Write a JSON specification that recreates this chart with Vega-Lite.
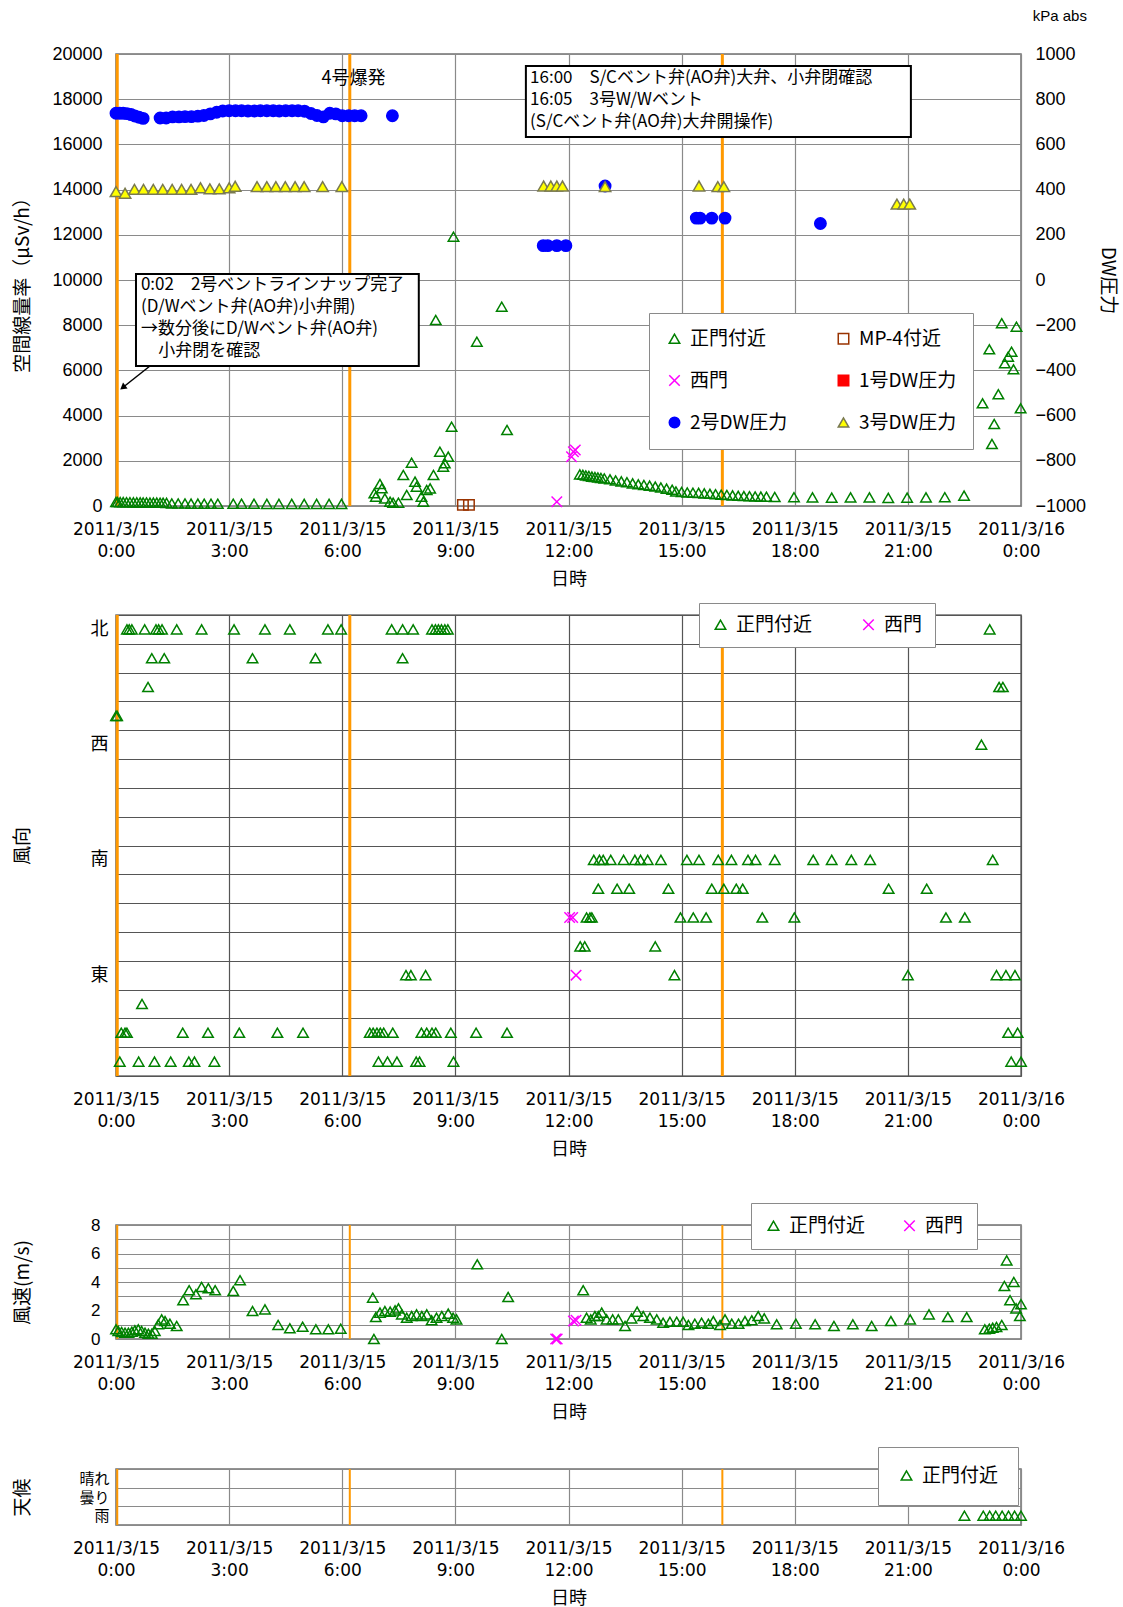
{
"$schema": "https://vega.github.io/schema/vega-lite/v6.json",
"background": "white",
"padding": {"left": 12, "top": 8, "right": 5, "bottom": 0},
"config": {
 "font": "Noto Sans CJK JP",
 "view": {"stroke": "#707070", "strokeWidth": 1.5},
 "axis": {"labelColor": "black", "titleColor": "black", "titleFont": "Noto Sans CJK JP", "titleFontWeight": "normal", "titleFontSize": 19, "labelFontSize": 18, "labelFont": "Liberation Sans", "ticks": false, "domain": false, "gridColor": "#8a8a8a", "gridWidth": 1.2, "gridOpacity": 1, "labelOverlap": false},
 "axisX": {"labelFont": "DejaVu Sans", "labelFontSize": 17, "labelLineHeight": 22, "labelPadding": 15, "titlePadding": 11, "titleFontSize": 18, "labelAngle": 0, "labelFlush": false},
 "axisLeft": {"titleX": -94, "titleBaseline": "middle"},
 "legend": {"labelFont": "Noto Sans CJK JP", "labelFontSize": 19, "labelColor": "black", "fillColor": "white", "strokeColor": "#8a8a8a", "symbolStrokeWidth": 1.5, "labelOffset": 6, "symbolSize": 110},
 "point": {"size": 110, "strokeWidth": 1.5, "filled": true, "opacity": 1}
},
"datasets": {
 "events": [{"h": 0.033, "事象": "2号ベント"}, {"h": 6.2, "事象": "4号爆発"}, {"h": 16.08, "事象": "3号ベント"}],
 "boxes": [{"h": 0.53, "h2": 8.03, "線量率": 6195, "線量率2": 10266}, {"h": 10.87, "h2": 21.08, "線量率": 16328, "線量率2": 19469}],
 "arrow": [{"h": 0.9, "h2": 0.18, "線量率": 6195, "線量率2": 5243}],
 "notes": [
  {"h": 0.66, "線量率": 9780, "text": "0:02　2号ベントラインナップ完了"},
  {"h": 0.66, "線量率": 8800, "text": "(D/Wベント弁(AO弁)小弁開)"},
  {"h": 0.66, "線量率": 7820, "text": "→数分後にD/Wベント弁(AO弁)"},
  {"h": 1.12, "線量率": 6840, "text": "小弁閉を確認"},
  {"h": 10.98, "線量率": 18939, "text": "16:00　S/Cベント弁(AO弁)大弁、小弁閉確認"},
  {"h": 10.98, "線量率": 17966, "text": "16:05　3号W/Wベント"},
  {"h": 10.98, "線量率": 16992, "text": "(S/Cベント弁(AO弁)大弁開操作)"}
 ],
 "eventlabel": [{"h": 6.3, "線量率": 18900, "text": "4号爆発"}],
 "units": [{"h": 25.03, "圧力": 1168, "text": "kPa abs"}],
 "dose": [
  {"h":0,"系列":"正門付近","線量率":180},{"h":0.04,"系列":"正門付近","線量率":175},{"h":0.11,"系列":"正門付近","線量率":170},{"h":0.19,"系列":"正門付近","線量率":170},{"h":0.28,"系列":"正門付近","線量率":165},{"h":0.37,"系列":"正門付近","線量率":165},{"h":0.46,"系列":"正門付近","線量率":160},{"h":0.55,"系列":"正門付近","線量率":160},{"h":0.64,"系列":"正門付近","線量率":160},{"h":0.72,"系列":"正門付近","線量率":155},{"h":0.81,"系列":"正門付近","線量率":155},{"h":0.9,"系列":"正門付近","線量率":150},{"h":0.99,"系列":"正門付近","線量率":150},{"h":1.08,"系列":"正門付近","線量率":150},{"h":1.17,"系列":"正門付近","線量率":145},{"h":1.25,"系列":"正門付近","線量率":145},{"h":1.34,"系列":"正門付近","線量率":140},
  {"h":1.48,"系列":"正門付近","線量率":110},{"h":1.65,"系列":"正門付近","線量率":110},{"h":1.83,"系列":"正門付近","線量率":110},{"h":1.99,"系列":"正門付近","線量率":105},{"h":2.17,"系列":"正門付近","線量率":105},{"h":2.34,"系列":"正門付近","線量率":100},{"h":2.52,"系列":"正門付近","線量率":100},{"h":2.7,"系列":"正門付近","線量率":100},{"h":3.11,"系列":"正門付近","線量率":100},{"h":3.33,"系列":"正門付近","線量率":100},{"h":3.66,"系列":"正門付近","線量率":100},{"h":4,"系列":"正門付近","線量率":95},{"h":4.32,"系列":"正門付近","線量率":95},{"h":4.66,"系列":"正門付近","線量率":95},{"h":4.99,"系列":"正門付近","線量率":95},{"h":5.32,"系列":"正門付近","線量率":95},{"h":5.65,"系列":"正門付近","線量率":95},{"h":5.98,"系列":"正門付近","線量率":95},
  {"h":6.85,"系列":"正門付近","線量率":562},{"h":6.89,"系列":"正門付近","線量率":412},{"h":7,"系列":"正門付近","線量率":973},{"h":7.05,"系列":"正門付近","線量率":782},{"h":7.13,"系列":"正門付近","線量率":339},{"h":7.27,"系列":"正門付近","線量率":190},{"h":7.35,"系列":"正門付近","線量率":146},{"h":7.49,"系列":"正門付近","線量率":146},{"h":7.62,"系列":"正門付近","線量率":1372},{"h":7.71,"系列":"正門付近","線量率":487},{"h":7.84,"系列":"正門付近","線量率":1917},{"h":7.93,"系列":"正門付近","線量率":1077},{"h":7.97,"系列":"正門付近","線量率":855},{"h":8.1,"系列":"正門付近","線量率":413},{"h":8.15,"系列":"正門付近","線量率":192},{"h":8.24,"系列":"正門付近","線量率":708},{"h":8.33,"系列":"正門付近","線量率":781},{"h":8.42,"系列":"正門付近","線量率":1372},{"h":8.48,"系列":"正門付近","線量率":8230},{"h":8.59,"系列":"正門付近","線量率":2403},{"h":8.68,"系列":"正門付近","線量率":1741},{"h":8.72,"系列":"正門付近","線量率":1888},{"h":8.81,"系列":"正門付近","線量率":2183},{"h":8.9,"系列":"正門付近","線量率":3510},{"h":8.95,"系列":"正門付近","線量率":11917},{"h":9.57,"系列":"正門付近","線量率":7271},{"h":10.23,"系列":"正門付近","線量率":8820},{"h":10.37,"系列":"正門付近","線量率":3363},
  {"h":12.3,"系列":"正門付近","線量率":1400},{"h":12.38,"系列":"正門付近","線量率":1380},{"h":12.46,"系列":"正門付近","線量率":1350},{"h":12.54,"系列":"正門付近","線量率":1330},{"h":12.62,"系列":"正門付近","線量率":1300},{"h":12.7,"系列":"正門付近","線量率":1280},{"h":12.78,"系列":"正門付近","線量率":1260},{"h":12.86,"系列":"正門付近","線量率":1240},{"h":12.95,"系列":"正門付近","線量率":1220},{"h":13.1,"系列":"正門付近","線量率":1180},{"h":13.25,"系列":"正門付近","線量率":1130},{"h":13.4,"系列":"正門付近","線量率":1090},{"h":13.55,"系列":"正門付近","線量率":1050},{"h":13.7,"系列":"正門付近","線量率":1000},{"h":13.85,"系列":"正門付近","線量率":960},{"h":14,"系列":"正門付近","線量率":930},{"h":14.15,"系列":"正門付近","線量率":900},{"h":14.3,"系列":"正門付近","線量率":860},{"h":14.45,"系列":"正門付近","線量率":820},{"h":14.6,"系列":"正門付近","線量率":770},{"h":14.75,"系列":"正門付近","線量率":720},{"h":14.85,"系列":"正門付近","線量率":640},{"h":15,"系列":"正門付近","線量率":620},{"h":15.15,"系列":"正門付近","線量率":600},{"h":15.3,"系列":"正門付近","線量率":590},{"h":15.45,"系列":"正門付近","線量率":580},{"h":15.6,"系列":"正門付近","線量率":560},{"h":15.75,"系列":"正門付近","線量率":540},{"h":15.9,"系列":"正門付近","線量率":520},{"h":16.05,"系列":"正門付近","線量率":500},{"h":16.2,"系列":"正門付近","線量率":490},{"h":16.35,"系列":"正門付近","線量率":470},{"h":16.5,"系列":"正門付近","線量率":450},{"h":16.65,"系列":"正門付近","線量率":440},{"h":16.8,"系列":"正門付近","線量率":430},{"h":16.95,"系列":"正門付近","線量率":420},{"h":17.1,"系列":"正門付近","線量率":415},{"h":17.25,"系列":"正門付近","線量率":410},
  {"h":17.47,"系列":"正門付近","線量率":400},{"h":17.98,"系列":"正門付近","線量率":390},{"h":18.47,"系列":"正門付近","線量率":380},{"h":18.98,"系列":"正門付近","線量率":370},{"h":19.48,"系列":"正門付近","線量率":380},{"h":19.98,"系列":"正門付近","線量率":380},{"h":20.48,"系列":"正門付近","線量率":360},{"h":20.98,"系列":"正門付近","線量率":370},{"h":21.48,"系列":"正門付近","線量率":380},{"h":21.98,"系列":"正門付近","線量率":390},{"h":22.49,"系列":"正門付近","線量率":460},
  {"h":22.98,"系列":"正門付近","線量率":4544},{"h":23.16,"系列":"正門付近","線量率":6934},{"h":23.23,"系列":"正門付近","線量率":2744},{"h":23.29,"系列":"正門付近","線量率":3629},{"h":23.4,"系列":"正門付近","線量率":4943},{"h":23.49,"系列":"正門付近","線量率":8085},{"h":23.57,"系列":"正門付近","線量率":6314},{"h":23.66,"系列":"正門付近","線量率":6607},{"h":23.75,"系列":"正門付近","線量率":6828},{"h":23.8,"系列":"正門付近","線量率":6049},{"h":23.88,"系列":"正門付近","線量率":7934},{"h":23.99,"系列":"正門付近","線量率":4323},
  {"h":9.2,"系列":"MP-4付近","線量率":50},{"h":9.36,"系列":"MP-4付近","線量率":50},
  {"h":11.69,"系列":"西門","線量率":190},{"h":12.08,"系列":"西門","線量率":2180},{"h":12.13,"系列":"西門","線量率":2400},{"h":12.18,"系列":"西門","線量率":2480}
 ],
 "dw": [
  {"h":0,"系列":"2号DW圧力","圧力":738},{"h":0.1,"系列":"2号DW圧力","圧力":738},{"h":0.19,"系列":"2号DW圧力","圧力":738},{"h":0.29,"系列":"2号DW圧力","圧力":736},{"h":0.4,"系列":"2号DW圧力","圧力":732},{"h":0.5,"系列":"2号DW圧力","圧力":726},{"h":0.61,"系列":"2号DW圧力","圧力":720},{"h":0.72,"系列":"2号DW圧力","圧力":715},
  {"h":1.17,"系列":"2号DW圧力","圧力":717},{"h":1.33,"系列":"2号DW圧力","圧力":717},{"h":1.5,"系列":"2号DW圧力","圧力":722},{"h":1.67,"系列":"2号DW圧力","圧力":722},{"h":1.83,"系列":"2号DW圧力","圧力":723},{"h":2,"系列":"2号DW圧力","圧力":723},{"h":2.17,"系列":"2号DW圧力","圧力":725},{"h":2.33,"系列":"2号DW圧力","圧力":728},{"h":2.5,"系列":"2号DW圧力","圧力":735},{"h":2.67,"系列":"2号DW圧力","圧力":742},{"h":2.83,"系列":"2号DW圧力","圧力":748},{"h":3,"系列":"2号DW圧力","圧力":749},{"h":3.17,"系列":"2号DW圧力","圧力":749},{"h":3.33,"系列":"2号DW圧力","圧力":749},{"h":3.5,"系列":"2号DW圧力","圧力":748},{"h":3.67,"系列":"2号DW圧力","圧力":748},{"h":3.83,"系列":"2号DW圧力","圧力":749},{"h":4,"系列":"2号DW圧力","圧力":749},{"h":4.17,"系列":"2号DW圧力","圧力":749},{"h":4.33,"系列":"2号DW圧力","圧力":748},{"h":4.5,"系列":"2号DW圧力","圧力":749},{"h":4.67,"系列":"2号DW圧力","圧力":749},{"h":4.83,"系列":"2号DW圧力","圧力":749},{"h":5,"系列":"2号DW圧力","圧力":747},{"h":5.17,"系列":"2号DW圧力","圧力":737},{"h":5.33,"系列":"2号DW圧力","圧力":728},{"h":5.5,"系列":"2号DW圧力","圧力":722},{"h":5.67,"系列":"2号DW圧力","圧力":738},{"h":5.83,"系列":"2号DW圧力","圧力":735},{"h":6,"系列":"2号DW圧力","圧力":727},{"h":6.17,"系列":"2号DW圧力","圧力":727},{"h":6.33,"系列":"2号DW圧力","圧力":727},{"h":6.5,"系列":"2号DW圧力","圧力":727},{"h":7.33,"系列":"2号DW圧力","圧力":727},
  {"h":11.33,"系列":"2号DW圧力","圧力":152},{"h":11.45,"系列":"2号DW圧力","圧力":152},{"h":11.69,"系列":"2号DW圧力","圧力":152},{"h":11.93,"系列":"2号DW圧力","圧力":152},{"h":12.97,"系列":"2号DW圧力","圧力":416},{"h":15.39,"系列":"2号DW圧力","圧力":274},{"h":15.49,"系列":"2号DW圧力","圧力":274},{"h":15.8,"系列":"2号DW圧力","圧力":274},{"h":16.15,"系列":"2号DW圧力","圧力":274},{"h":18.68,"系列":"2号DW圧力","圧力":250},
  {"h":0,"系列":"3号DW圧力","圧力":391},{"h":0.24,"系列":"3号DW圧力","圧力":384},{"h":0.49,"系列":"3号DW圧力","圧力":401},{"h":0.73,"系列":"3号DW圧力","圧力":401},{"h":0.99,"系列":"3号DW圧力","圧力":401},{"h":1.24,"系列":"3号DW圧力","圧力":401},{"h":1.49,"系列":"3号DW圧力","圧力":401},{"h":1.74,"系列":"3号DW圧力","圧力":401},{"h":1.99,"系列":"3号DW圧力","圧力":401},{"h":2.24,"系列":"3号DW圧力","圧力":408},{"h":2.49,"系列":"3号DW圧力","圧力":403},{"h":2.74,"系列":"3号DW圧力","圧力":403},{"h":3,"系列":"3号DW圧力","圧力":408},{"h":3.16,"系列":"3号DW圧力","圧力":415},{"h":3.74,"系列":"3号DW圧力","圧力":413},{"h":4,"系列":"3号DW圧力","圧力":413},{"h":4.24,"系列":"3号DW圧力","圧力":413},{"h":4.49,"系列":"3号DW圧力","圧力":413},{"h":4.75,"系列":"3号DW圧力","圧力":413},{"h":4.99,"系列":"3号DW圧力","圧力":413},{"h":5.48,"系列":"3号DW圧力","圧力":413},{"h":5.99,"系列":"3号DW圧力","圧力":413},
  {"h":11.34,"系列":"3号DW圧力","圧力":416},{"h":11.53,"系列":"3号DW圧力","圧力":416},{"h":11.69,"系列":"3号DW圧力","圧力":416},{"h":11.84,"系列":"3号DW圧力","圧力":416},{"h":12.97,"系列":"3号DW圧力","圧力":413},{"h":15.46,"系列":"3号DW圧力","圧力":416},{"h":15.96,"系列":"3号DW圧力","圧力":413},{"h":16.12,"系列":"3号DW圧力","圧力":413},{"h":20.71,"系列":"3号DW圧力","圧力":336},{"h":20.89,"系列":"3号DW圧力","圧力":336},{"h":21.05,"系列":"3号DW圧力","圧力":336}
 ],
 "winddir": [
  {"h":0.29,"系列":"正門付近","風向":"北"},{"h":0.35,"系列":"正門付近","風向":"北"},{"h":0.42,"系列":"正門付近","風向":"北"},{"h":0.76,"系列":"正門付近","風向":"北"},{"h":1.06,"系列":"正門付近","風向":"北"},{"h":1.13,"系列":"正門付近","風向":"北"},{"h":1.22,"系列":"正門付近","風向":"北"},{"h":1.61,"系列":"正門付近","風向":"北"},{"h":2.27,"系列":"正門付近","風向":"北"},{"h":3.13,"系列":"正門付近","風向":"北"},{"h":3.95,"系列":"正門付近","風向":"北"},{"h":4.61,"系列":"正門付近","風向":"北"},{"h":5.62,"系列":"正門付近","風向":"北"},{"h":5.97,"系列":"正門付近","風向":"北"},{"h":7.31,"系列":"正門付近","風向":"北"},{"h":7.6,"系列":"正門付近","風向":"北"},{"h":7.88,"系列":"正門付近","風向":"北"},{"h":8.38,"系列":"正門付近","風向":"北"},{"h":8.47,"系列":"正門付近","風向":"北"},{"h":8.55,"系列":"正門付近","風向":"北"},{"h":8.63,"系列":"正門付近","風向":"北"},{"h":8.72,"系列":"正門付近","風向":"北"},{"h":8.8,"系列":"正門付近","風向":"北"},{"h":23.17,"系列":"正門付近","風向":"北"},
  {"h":0.95,"系列":"正門付近","風向":"北北西"},{"h":1.28,"系列":"正門付近","風向":"北北西"},{"h":3.62,"系列":"正門付近","風向":"北北西"},{"h":5.29,"系列":"正門付近","風向":"北北西"},{"h":7.6,"系列":"正門付近","風向":"北北西"},
  {"h":0.85,"系列":"正門付近","風向":"北西"},{"h":23.42,"系列":"正門付近","風向":"北西"},{"h":23.52,"系列":"正門付近","風向":"北西"},
  {"h":0,"系列":"正門付近","風向":"西北西"},{"h":0.03,"系列":"正門付近","風向":"西北西"},
  {"h":22.95,"系列":"正門付近","風向":"西"},
  {"h":12.67,"系列":"正門付近","風向":"南"},{"h":12.82,"系列":"正門付近","風向":"南"},{"h":12.92,"系列":"正門付近","風向":"南"},{"h":13.12,"系列":"正門付近","風向":"南"},{"h":13.46,"系列":"正門付近","風向":"南"},{"h":13.76,"系列":"正門付近","風向":"南"},{"h":13.91,"系列":"正門付近","風向":"南"},{"h":14.1,"系列":"正門付近","風向":"南"},{"h":14.45,"系列":"正門付近","風向":"南"},{"h":15.14,"系列":"正門付近","風向":"南"},{"h":15.46,"系列":"正門付近","風向":"南"},{"h":15.97,"系列":"正門付近","風向":"南"},{"h":16.32,"系列":"正門付近","風向":"南"},{"h":16.76,"系列":"正門付近","風向":"南"},{"h":16.96,"系列":"正門付近","風向":"南"},{"h":17.47,"系列":"正門付近","風向":"南"},{"h":18.49,"系列":"正門付近","風向":"南"},{"h":18.98,"系列":"正門付近","風向":"南"},{"h":19.5,"系列":"正門付近","風向":"南"},{"h":20,"系列":"正門付近","風向":"南"},{"h":23.25,"系列":"正門付近","風向":"南"},
  {"h":12.79,"系列":"正門付近","風向":"南南東"},{"h":13.29,"系列":"正門付近","風向":"南南東"},{"h":13.61,"系列":"正門付近","風向":"南南東"},{"h":14.65,"系列":"正門付近","風向":"南南東"},{"h":15.8,"系列":"正門付近","風向":"南南東"},{"h":16.12,"系列":"正門付近","風向":"南南東"},{"h":16.45,"系列":"正門付近","風向":"南南東"},{"h":16.62,"系列":"正門付近","風向":"南南東"},{"h":20.49,"系列":"正門付近","風向":"南南東"},{"h":21.5,"系列":"正門付近","風向":"南南東"},
  {"h":12.48,"系列":"正門付近","風向":"南東"},{"h":12.57,"系列":"正門付近","風向":"南東"},{"h":12.62,"系列":"正門付近","風向":"南東"},{"h":14.97,"系列":"正門付近","風向":"南東"},{"h":15.31,"系列":"正門付近","風向":"南東"},{"h":15.65,"系列":"正門付近","風向":"南東"},{"h":17.14,"系列":"正門付近","風向":"南東"},{"h":17.99,"系列":"正門付近","風向":"南東"},{"h":22.01,"系列":"正門付近","風向":"南東"},{"h":22.51,"系列":"正門付近","風向":"南東"},
  {"h":12.31,"系列":"正門付近","風向":"東南東"},{"h":12.43,"系列":"正門付近","風向":"東南東"},{"h":14.3,"系列":"正門付近","風向":"東南東"},
  {"h":7.69,"系列":"正門付近","風向":"東"},{"h":7.82,"系列":"正門付近","風向":"東"},{"h":8.21,"系列":"正門付近","風向":"東"},{"h":14.81,"系列":"正門付近","風向":"東"},{"h":21,"系列":"正門付近","風向":"東"},{"h":23.35,"系列":"正門付近","風向":"東"},{"h":23.6,"系列":"正門付近","風向":"東"},{"h":23.84,"系列":"正門付近","風向":"東"},
  {"h":0.69,"系列":"正門付近","風向":"東北東"},
  {"h":0.14,"系列":"正門付近","風向":"北東"},{"h":0.24,"系列":"正門付近","風向":"北東"},{"h":0.29,"系列":"正門付近","風向":"北東"},{"h":1.77,"系列":"正門付近","風向":"北東"},{"h":2.44,"系列":"正門付近","風向":"北東"},{"h":3.27,"系列":"正門付近","風向":"北東"},{"h":4.28,"系列":"正門付近","風向":"北東"},{"h":4.96,"系列":"正門付近","風向":"北東"},{"h":6.73,"系列":"正門付近","風向":"北東"},{"h":6.82,"系列":"正門付近","風向":"北東"},{"h":6.92,"系列":"正門付近","風向":"北東"},{"h":7.01,"系列":"正門付近","風向":"北東"},{"h":7.1,"系列":"正門付近","風向":"北東"},{"h":7.34,"系列":"正門付近","風向":"北東"},{"h":8.1,"系列":"正門付近","風向":"北東"},{"h":8.24,"系列":"正門付近","風向":"北東"},{"h":8.38,"系列":"正門付近","風向":"北東"},{"h":8.48,"系列":"正門付近","風向":"北東"},{"h":8.88,"系列":"正門付近","風向":"北東"},{"h":9.55,"系列":"正門付近","風向":"北東"},{"h":10.37,"系列":"正門付近","風向":"北東"},{"h":23.66,"系列":"正門付近","風向":"北東"},{"h":23.91,"系列":"正門付近","風向":"北東"},
  {"h":0.1,"系列":"正門付近","風向":"北北東"},{"h":0.6,"系列":"正門付近","風向":"北北東"},{"h":1.02,"系列":"正門付近","風向":"北北東"},{"h":1.45,"系列":"正門付近","風向":"北北東"},{"h":1.93,"系列":"正門付近","風向":"北北東"},{"h":2.08,"系列":"正門付近","風向":"北北東"},{"h":2.61,"系列":"正門付近","風向":"北北東"},{"h":6.96,"系列":"正門付近","風向":"北北東"},{"h":7.2,"系列":"正門付近","風向":"北北東"},{"h":7.45,"系列":"正門付近","風向":"北北東"},{"h":7.96,"系列":"正門付近","風向":"北北東"},{"h":8.05,"系列":"正門付近","風向":"北北東"},{"h":8.95,"系列":"正門付近","風向":"北北東"},{"h":23.74,"系列":"正門付近","風向":"北北東"},{"h":24,"系列":"正門付近","風向":"北北東"},
  {"h":12.03,"系列":"西門","風向":"南東"},{"h":12.11,"系列":"西門","風向":"南東"},{"h":12.2,"系列":"西門","風向":"東"}
 ],
 "windspeed": [
  {"h":0,"系列":"正門付近","風速":0.68},{"h":0.06,"系列":"正門付近","風速":0.56},{"h":0.15,"系列":"正門付近","風速":0.49},{"h":0.24,"系列":"正門付近","風速":0.44},{"h":0.33,"系列":"正門付近","風速":0.44},{"h":0.42,"系列":"正門付近","風速":0.51},{"h":0.5,"系列":"正門付近","風速":0.61},{"h":0.59,"系列":"正門付近","風速":0.68},{"h":0.68,"系列":"正門付近","風速":0.56},{"h":0.77,"系列":"正門付近","風速":0.44},{"h":0.86,"系列":"正門付近","風速":0.37},{"h":0.95,"系列":"正門付近","風速":0.37},{"h":1.03,"系列":"正門付近","風速":0.56},{"h":1.12,"系列":"正門付近","風速":1.03},{"h":1.21,"系列":"正門付近","風速":1.38},{"h":1.3,"系列":"正門付近","風速":1.26},{"h":1.43,"系列":"正門付近","風速":1.07},{"h":1.61,"系列":"正門付近","風速":0.91},
  {"h":1.78,"系列":"正門付近","風速":2.72},{"h":1.94,"系列":"正門付近","風速":3.42},{"h":2.12,"系列":"正門付近","風速":3.14},{"h":2.27,"系列":"正門付近","風速":3.65},{"h":2.45,"系列":"正門付近","風速":3.56},{"h":2.63,"系列":"正門付近","風速":3.42},{"h":3.11,"系列":"正門付近","風速":3.37},{"h":3.29,"系列":"正門付近","風速":4.12},{"h":3.62,"系列":"正門付近","風速":1.96},{"h":3.95,"系列":"正門付近","風速":2.08},{"h":4.3,"系列":"正門付近","風速":0.98},{"h":4.61,"系列":"正門付近","風速":0.75},{"h":4.95,"系列":"正門付近","風速":0.86},{"h":5.3,"系列":"正門付近","風速":0.68},{"h":5.63,"系列":"正門付近","風速":0.68},{"h":5.96,"系列":"正門付近","風速":0.72},
  {"h":6.81,"系列":"正門付近","風速":2.9},{"h":6.84,"系列":"正門付近","風速":0},{"h":6.89,"系列":"正門付近","風速":1.54},{"h":7,"系列":"正門付近","風速":1.85},{"h":7.13,"系列":"正門付近","風速":1.96},{"h":7.27,"系列":"正門付近","風速":1.92},{"h":7.4,"系列":"正門付近","風速":2.01},{"h":7.49,"系列":"正門付近","風速":2.15},{"h":7.58,"系列":"正門付近","風速":1.73},{"h":7.71,"系列":"正門付近","風速":1.49},{"h":7.84,"系列":"正門付近","風速":1.61},{"h":7.97,"系列":"正門付近","風速":1.73},{"h":8.11,"系列":"正門付近","風速":1.61},{"h":8.24,"系列":"正門付近","風速":1.73},{"h":8.37,"系列":"正門付近","風速":1.31},{"h":8.5,"系列":"正門付近","風速":1.49},{"h":8.64,"系列":"正門付近","風速":1.61},{"h":8.81,"系列":"正門付近","風速":1.78},{"h":8.94,"系列":"正門付近","風速":1.49},{"h":9.03,"系列":"正門付近","風速":1.38},
  {"h":9.58,"系列":"正門付近","風速":5.24},{"h":10.23,"系列":"正門付近","風速":0},{"h":10.4,"系列":"正門付近","風速":2.95},{"h":12.39,"系列":"正門付近","風速":3.42},
  {"h":12.48,"系列":"正門付近","風速":1.49},{"h":12.59,"系列":"正門付近","風速":1.38},{"h":12.7,"系列":"正門付近","風速":1.61},{"h":12.79,"系列":"正門付近","風速":1.61},{"h":12.88,"系列":"正門付近","風速":1.85},{"h":13.01,"系列":"正門付近","風速":1.38},{"h":13.17,"系列":"正門付近","風速":1.38},{"h":13.32,"系列":"正門付近","風速":1.38},{"h":13.5,"系列":"正門付近","風速":0.91},{"h":13.67,"系列":"正門付近","風速":1.45},{"h":13.82,"系列":"正門付近","風速":1.92},{"h":13.98,"系列":"正門付近","風速":1.61},{"h":14.16,"系列":"正門付近","風速":1.49},{"h":14.34,"系列":"正門付近","風速":1.38},{"h":14.51,"系列":"正門付近","風速":1.14},{"h":14.69,"系列":"正門付近","風速":1.21},{"h":14.87,"系列":"正門付近","風速":1.21},{"h":15.04,"系列":"正門付近","風速":1.21},{"h":15.18,"系列":"正門付近","風速":0.98},{"h":15.35,"系列":"正門付近","風速":1.07},{"h":15.53,"系列":"正門付近","風速":1.14},{"h":15.71,"系列":"正門付近","風速":1.07},{"h":15.84,"系列":"正門付近","風速":1.26},{"h":16.02,"系列":"正門付近","風速":0.98},{"h":16.15,"系列":"正門付近","風速":1.38},{"h":16.33,"系列":"正門付近","風速":1.07},{"h":16.51,"系列":"正門付近","風速":1.07},{"h":16.68,"系列":"正門付近","風速":1.26},{"h":16.86,"系列":"正門付近","風速":1.31},{"h":17.03,"系列":"正門付近","風速":1.61},{"h":17.19,"系列":"正門付近","風速":1.45},
  {"h":17.52,"系列":"正門付近","風速":1.03},{"h":18.03,"系列":"正門付近","風速":1.07},{"h":18.54,"系列":"正門付近","風速":1.03},{"h":19.04,"系列":"正門付近","風速":0.91},{"h":19.54,"系列":"正門付近","風速":1.03},{"h":20.04,"系列":"正門付近","風速":0.91},{"h":20.55,"系列":"正門付近","風速":1.26},{"h":21.06,"系列":"正門付近","風速":1.38},{"h":21.56,"系列":"正門付近","風速":1.73},{"h":22.06,"系列":"正門付近","風速":1.54},{"h":22.56,"系列":"正門付近","風速":1.54},
  {"h":23.04,"系列":"正門付近","風速":0.68},{"h":23.16,"系列":"正門付近","風速":0.72},{"h":23.25,"系列":"正門付近","風速":0.79},{"h":23.35,"系列":"正門付近","風速":0.84},{"h":23.49,"系列":"正門付近","風速":0.98},{"h":23.56,"系列":"正門付近","風速":3.72},{"h":23.62,"系列":"正門付近","風速":5.52},{"h":23.71,"系列":"正門付近","風速":2.72},{"h":23.81,"系列":"正門付近","風速":4},{"h":23.87,"系列":"正門付近","風速":2.15},{"h":23.97,"系列":"正門付近","風速":1.61},{"h":24,"系列":"正門付近","風速":2.44},
  {"h":11.66,"系列":"西門","風速":0},{"h":11.7,"系列":"西門","風速":0},{"h":12.13,"系列":"西門","風速":1.26},{"h":12.2,"系列":"西門","風速":1.31}
 ],
 "weather": [
  {"h":22.5,"系列":"正門付近","天候":"雨"},{"h":23,"系列":"正門付近","天候":"雨"},{"h":23.17,"系列":"正門付近","天候":"雨"},{"h":23.33,"系列":"正門付近","天候":"雨"},{"h":23.5,"系列":"正門付近","天候":"雨"},{"h":23.67,"系列":"正門付近","天候":"雨"},{"h":23.83,"系列":"正門付近","天候":"雨"},{"h":24,"系列":"正門付近","天候":"雨"}
 ]
},
"resolve": {"scale": {"x": "independent", "y": "independent", "fill": "independent", "stroke": "independent", "shape": "independent", "strokeWidth": "independent"}},
"spacing": 42,
"vconcat": [
 {
  "resolve": {"scale": {"x": "independent", "y": "independent", "fill": "independent", "stroke": "independent", "shape": "independent", "strokeWidth": "independent"}},
  "spacing": 12,
  "vconcat": [
   {
    "width": 905, "height": 452,
    "resolve": {"scale": {"y": "independent"}},
    "layer": [
     {
      "layer": [
       {"data": {"name": "events"}, "mark": {"type": "rule", "color": "#FF9900"},
        "encoding": {
         "x": {"field": "h", "type": "quantitative", "scale": {"domain": [0, 24], "nice": false}, "title": "日時",
               "axis": {"values": [0,3,6,9,12,15,18,21,24], "grid": true, "labelExpr": "datum.value == 24 ? ['2011/3/16', '0:00'] : ['2011/3/15', datum.value + ':00']"}},
         "strokeWidth": {"field": "事象", "type": "nominal", "scale": {"domain": ["2号ベント", "4号爆発", "3号ベント"], "range": [3, 3, 6]}, "legend": null}
        }},
       {"data": {"name": "boxes"}, "mark": {"type": "rect", "fill": "white", "stroke": "black", "strokeWidth": 2},
        "encoding": {
         "x": {"field": "h", "type": "quantitative", "scale": {"domain": [0, 24], "nice": false}, "title": "日時"},
         "x2": {"field": "h2"},
         "y": {"field": "線量率", "type": "quantitative", "scale": {"domain": [0, 20000], "nice": false}, "title": "空間線量率（μSv/h）"},
         "y2": {"field": "線量率2"}
        }},
       {"data": {"name": "arrow"}, "mark": {"type": "rule", "color": "black", "strokeWidth": 1.5},
        "encoding": {
         "x": {"field": "h", "type": "quantitative", "scale": {"domain": [0, 24], "nice": false}, "title": "日時"},
         "x2": {"field": "h2"},
         "y": {"field": "線量率", "type": "quantitative", "scale": {"domain": [0, 20000], "nice": false}, "title": "空間線量率（μSv/h）"},
         "y2": {"field": "線量率2"}
        }},
       {"data": {"name": "arrow"}, "mark": {"type": "point", "shape": "triangle-up", "filled": true, "color": "black", "size": 55, "angle": 232},
        "encoding": {
         "x": {"field": "h2", "type": "quantitative", "scale": {"domain": [0, 24], "nice": false}, "title": "日時"},
         "y": {"field": "線量率2", "type": "quantitative", "scale": {"domain": [0, 20000], "nice": false}, "title": "空間線量率（μSv/h）"}
        }},
       {"data": {"name": "notes"}, "mark": {"type": "text", "align": "left", "baseline": "middle", "fontSize": 17, "font": "Noto Sans CJK JP", "color": "black"},
        "encoding": {
         "x": {"field": "h", "type": "quantitative", "scale": {"domain": [0, 24], "nice": false}, "title": "日時"},
         "y": {"field": "線量率", "type": "quantitative", "scale": {"domain": [0, 20000], "nice": false}, "title": "空間線量率（μSv/h）"},
         "text": {"field": "text", "type": "nominal"}
        }},
       {"data": {"name": "eventlabel"}, "mark": {"type": "text", "align": "center", "baseline": "middle", "fontSize": 18, "font": "Noto Sans CJK JP", "color": "black"},
        "encoding": {
         "x": {"field": "h", "type": "quantitative", "scale": {"domain": [0, 24], "nice": false}, "title": "日時"},
         "y": {"field": "線量率", "type": "quantitative", "scale": {"domain": [0, 20000], "nice": false}, "title": "空間線量率（μSv/h）"},
         "text": {"field": "text", "type": "nominal"}
        }},
       {"data": {"name": "dose"}, "mark": {"type": "point"},
        "encoding": {
         "x": {"field": "h", "type": "quantitative", "scale": {"domain": [0, 24], "nice": false}, "title": "日時"},
         "y": {"field": "線量率", "type": "quantitative", "scale": {"domain": [0, 20000], "nice": false}, "title": "空間線量率（μSv/h）",
               "axis": {"orient": "left", "values": [0,2000,4000,6000,8000,10000,12000,14000,16000,18000,20000], "format": "d", "grid": true, "labelPadding": 14}},
         "fill": {"field": "系列", "type": "nominal", "scale": {"domain": ["正門付近","MP-4付近","西門","1号DW圧力","2号DW圧力","3号DW圧力"], "range": ["transparent","transparent","transparent","#FF0000","#0000FF","#FFFF00"]}},
         "stroke": {"field": "系列", "type": "nominal", "scale": {"domain": ["正門付近","MP-4付近","西門","1号DW圧力","2号DW圧力","3号DW圧力"], "range": ["#008000","#993300","#FF00FF","#FF0000","#0000FF","#7a7a50"]}},
         "shape": {"field": "系列", "type": "nominal", "scale": {"domain": ["正門付近","MP-4付近","西門","1号DW圧力","2号DW圧力","3号DW圧力"], "range": ["triangle-up","square","M-1,-1L1,1M-1,1L1,-1","square","circle","triangle-up"]},
                   "legend": {"title": null, "orient": "none", "direction": "horizontal", "legendX": 533, "legendY": 259, "columns": 2, "padding": 16, "rowPadding": 22, "columnPadding": 46}}
        }}
      ]
     },
     {
      "layer": [
       {"data": {"name": "dw"}, "mark": {"type": "point", "size": 130},
        "encoding": {
         "x": {"field": "h", "type": "quantitative", "scale": {"domain": [0, 24], "nice": false}, "title": "日時"},
         "y": {"field": "圧力", "type": "quantitative", "scale": {"domain": [-1000, 1000], "nice": false}, "title": "DW圧力",
               "axis": {"orient": "right", "values": [-1000,-800,-600,-400,-200,0,200,400,600,800,1000], "format": "d", "grid": false, "labelPadding": 14, "titleX": 86, "titleBaseline": "middle", "titleAngle": 90}},
         "fill": {"field": "系列", "type": "nominal", "scale": {"domain": ["正門付近","MP-4付近","西門","1号DW圧力","2号DW圧力","3号DW圧力"], "range": ["transparent","transparent","transparent","#FF0000","#0000FF","#FFFF00"]}},
         "stroke": {"field": "系列", "type": "nominal", "scale": {"domain": ["正門付近","MP-4付近","西門","1号DW圧力","2号DW圧力","3号DW圧力"], "range": ["#008000","#993300","#FF00FF","#FF0000","#0000FF","#7a7a50"]}},
         "shape": {"field": "系列", "type": "nominal", "scale": {"domain": ["正門付近","MP-4付近","西門","1号DW圧力","2号DW圧力","3号DW圧力"], "range": ["triangle-up","square","M-1,-1L1,1M-1,1L1,-1","square","circle","triangle-up"]}}
        }},
       {"data": {"name": "units"}, "mark": {"type": "text", "align": "center", "baseline": "middle", "fontSize": 15, "font": "Liberation Sans", "color": "black"},
        "encoding": {
         "x": {"field": "h", "type": "quantitative", "scale": {"domain": [0, 24], "nice": false}, "title": "日時"},
         "y": {"field": "圧力", "type": "quantitative", "scale": {"domain": [-1000, 1000], "nice": false}, "title": "DW圧力"},
         "text": {"field": "text", "type": "nominal"}
        }}
      ]
     }
    ]
   },
   {
    "width": 905, "height": 461,
    "layer": [
     {"data": {"name": "events"}, "mark": {"type": "rule", "color": "#FF9900"},
      "encoding": {
       "x": {"field": "h", "type": "quantitative", "scale": {"domain": [0, 24], "nice": false}, "title": "日時",
             "axis": {"values": [0,3,6,9,12,15,18,21,24], "grid": true, "gridColor": "#555555", "labelExpr": "datum.value == 24 ? ['2011/3/16', '0:00'] : ['2011/3/15', datum.value + ':00']"}},
       "strokeWidth": {"field": "事象", "type": "nominal", "scale": {"domain": ["2号ベント", "4号爆発", "3号ベント"], "range": [3, 3, 5]}, "legend": null}
      }},
     {"data": {"name": "winddir"}, "mark": {"type": "point"},
      "encoding": {
       "x": {"field": "h", "type": "quantitative", "scale": {"domain": [0, 24], "nice": false}, "title": "日時"},
       "y": {"field": "風向", "type": "ordinal", "title": "風向",
             "scale": {"type": "band", "domain": ["北","北北西","北西","西北西","西","西南西","南西","南南西","南","南南東","南東","東南東","東","東北東","北東","北北東"], "paddingInner": 0, "paddingOuter": 0},
             "axis": {"tickBand": "extent", "grid": true, "gridColor": "#555555", "labelFont": "Noto Sans CJK JP", "labelFontSize": 18, "labelPadding": 8, "labelExpr": "(datum.value == '北' || datum.value == '西' || datum.value == '南' || datum.value == '東') ? datum.value : ''"}},
       "fill": {"field": "系列", "type": "nominal", "scale": {"domain": ["正門付近","西門"], "range": ["transparent","transparent"]}},
       "stroke": {"field": "系列", "type": "nominal", "scale": {"domain": ["正門付近","西門"], "range": ["#008000","#FF00FF"]}},
       "shape": {"field": "系列", "type": "nominal", "scale": {"domain": ["正門付近","西門"], "range": ["triangle-up","M-1,-1L1,1M-1,1L1,-1"]},
                 "legend": {"title": null, "orient": "none", "direction": "horizontal", "legendX": 583, "legendY": -12, "columns": 2, "padding": 12, "columnPadding": 46}}
      }}
    ]
   }
  ]
 },
 {
  "resolve": {"scale": {"x": "independent", "y": "independent", "fill": "independent", "stroke": "independent", "shape": "independent", "strokeWidth": "independent"}},
  "spacing": 23,
  "vconcat": [
   {
    "width": 905, "height": 114,
    "layer": [
     {"data": {"name": "events"}, "mark": {"type": "rule", "color": "#FF9900"},
      "encoding": {
       "x": {"field": "h", "type": "quantitative", "scale": {"domain": [0, 24], "nice": false}, "title": "日時",
             "axis": {"values": [0,3,6,9,12,15,18,21,24], "grid": true, "labelExpr": "datum.value == 24 ? ['2011/3/16', '0:00'] : ['2011/3/15', datum.value + ':00']"}},
       "strokeWidth": {"field": "事象", "type": "nominal", "scale": {"domain": ["2号ベント", "4号爆発", "3号ベント"], "range": [2, 2, 4]}, "legend": null}
      }},
     {"data": {"name": "windspeed"}, "mark": {"type": "point"},
      "encoding": {
       "x": {"field": "h", "type": "quantitative", "scale": {"domain": [0, 24], "nice": false}, "title": "日時"},
       "y": {"field": "風速", "type": "quantitative", "scale": {"domain": [0, 8], "nice": false}, "title": "風速(m/s)",
             "axis": {"values": [0,1,2,3,4,5,6,7,8], "format": "d", "grid": true, "labelPadding": 16, "labelFontSize": 17, "labelExpr": "datum.value % 2 == 0 ? datum.label : ''"}},
       "fill": {"field": "系列", "type": "nominal", "scale": {"domain": ["正門付近","西門"], "range": ["transparent","transparent"]}},
       "stroke": {"field": "系列", "type": "nominal", "scale": {"domain": ["正門付近","西門"], "range": ["#008000","#FF00FF"]}},
       "shape": {"field": "系列", "type": "nominal", "scale": {"domain": ["正門付近","西門"], "range": ["triangle-up","M-1,-1L1,1M-1,1L1,-1"]},
                 "legend": {"title": null, "orient": "none", "direction": "horizontal", "legendX": 635, "legendY": -22, "columns": 2, "padding": 13, "columnPadding": 34}}
      }}
    ]
   },
   {
    "width": 905, "height": 56,
    "layer": [
     {"data": {"name": "events"}, "mark": {"type": "rule", "color": "#FF9900"},
      "encoding": {
       "x": {"field": "h", "type": "quantitative", "scale": {"domain": [0, 24], "nice": false}, "title": "日時",
             "axis": {"values": [0,3,6,9,12,15,18,21,24], "grid": true, "labelExpr": "datum.value == 24 ? ['2011/3/16', '0:00'] : ['2011/3/15', datum.value + ':00']"}},
       "strokeWidth": {"field": "事象", "type": "nominal", "scale": {"domain": ["2号ベント", "4号爆発", "3号ベント"], "range": [2, 2, 4]}, "legend": null}
      }},
     {"data": {"name": "weather"}, "mark": {"type": "point"},
      "encoding": {
       "x": {"field": "h", "type": "quantitative", "scale": {"domain": [0, 24], "nice": false}, "title": "日時"},
       "y": {"field": "天候", "type": "ordinal", "title": "天候",
             "scale": {"type": "band", "domain": ["晴れ","曇り","雨"], "paddingInner": 0, "paddingOuter": 0},
             "axis": {"tickBand": "extent", "grid": true, "labelFont": "Noto Sans CJK JP", "labelFontSize": 15, "labelPadding": 7}},
       "fill": {"field": "系列", "type": "nominal", "scale": {"domain": ["正門付近"], "range": ["transparent"]}},
       "stroke": {"field": "系列", "type": "nominal", "scale": {"domain": ["正門付近"], "range": ["#008000"]}},
       "shape": {"field": "系列", "type": "nominal", "scale": {"domain": ["正門付近"], "range": ["triangle-up"]},
                 "legend": {"title": null, "orient": "none", "legendX": 762, "legendY": -22, "columns": 1, "padding": 19}}
      }}
    ]
   }
  ]
 }
]
}
